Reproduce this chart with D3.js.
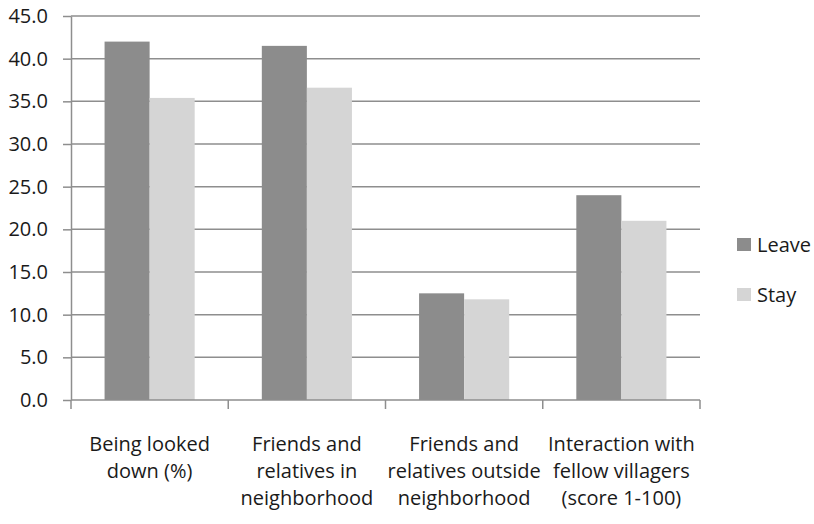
<!DOCTYPE html>
<html>
<head>
<meta charset="utf-8">
<script src="https://cdn.jsdelivr.net/npm/d3@7"></script>
<style>
  html, body { margin: 0; padding: 0; background: #fff; }
  svg text { font-family: "Open Sans", sans-serif; fill: #1a1a1a; }
</style>
</head>
<body>
<svg id="chart" width="814" height="524"></svg>
<script>
// Category labels (one entry per line)
const categories = [
  ["Being looked", "down (%)"],
  ["Friends and", "relatives in", "neighborhood"],
  ["Friends and", "relatives outside", "neighborhood"],
  ["Interaction with", "fellow villagers", "(score 1-100)"]
];
const seriesNames = ["Leave", "Stay"];
const leaveValues = [42.0, 41.5, 12.5, 24.0];
const stayValues = [35.4, 36.6, 11.8, 21.0];
const yTicks = [0, 5, 10, 15, 20, 25, 30, 35, 40, 45];

const colors = { Leave: "#8c8c8c", Stay: "#d5d5d5" };
const lineColor = "#8e8e8e";

const svg = d3.select("#chart");
const margin = { left: 71, right: 114, top: 16, bottom: 124 };
const W = 814, H = 524;
const plotW = W - margin.left - margin.right;
const plotH = H - margin.top - margin.bottom;

const g = svg.append("g").attr("transform", `translate(${margin.left},${margin.top})`);

const x0 = d3.scaleBand().domain(d3.range(categories.length)).range([0, plotW]).paddingInner(0).paddingOuter(0);
const x1 = d3.scaleBand().domain(seriesNames).range([0, x0.bandwidth()]).paddingOuter(0.745).paddingInner(0);
const y = d3.scaleLinear().domain([0, 45]).range([plotH, 0]);

// Horizontal gridlines
g.append("g").selectAll("line").data(yTicks.filter(d => d > 0)).join("line")
  .attr("x1", 0).attr("x2", plotW)
  .attr("y1", d => y(d)).attr("y2", d => y(d))
  .attr("stroke", lineColor).attr("stroke-width", 1.5);

// Bars
const rows = categories.map((c, i) => ({ i, values: [
  { key: "Leave", value: leaveValues[i] },
  { key: "Stay", value: stayValues[i] }
]}));
g.append("g").selectAll("g").data(rows).join("g")
  .attr("transform", d => `translate(${x0(d.i)},0)`)
  .selectAll("rect").data(d => d.values).join("rect")
  .attr("x", d => x1(d.key))
  .attr("width", x1.bandwidth())
  .attr("y", d => y(d.value))
  .attr("height", d => y(0) - y(d.value))
  .attr("fill", d => colors[d.key]);

// Y axis
const yAxis = d3.axisLeft(y).tickValues(yTicks).tickFormat(d3.format(".1f")).tickSize(8).tickSizeOuter(0).tickPadding(15);
const ya = g.append("g").call(yAxis);
ya.select(".domain").attr("stroke", lineColor).attr("stroke-width", 1.5);
ya.selectAll(".tick line").attr("stroke", lineColor).attr("stroke-width", 1.5);
ya.selectAll(".tick text").attr("font-size", 20).attr("fill", "#1a1a1a")
  .style("font-family", "'Open Sans', sans-serif");

// X axis: baseline plus category boundary ticks
g.append("line").attr("x1", 0).attr("x2", plotW).attr("y1", y(0)).attr("y2", y(0))
  .attr("stroke", lineColor).attr("stroke-width", 1.5);
const bounds = d3.range(categories.length + 1).map(i => i === categories.length ? plotW : x0(i));
g.append("g").selectAll("line").data(bounds).join("line")
  .attr("x1", d => d).attr("x2", d => d)
  .attr("y1", y(0)).attr("y2", y(0) + 9)
  .attr("stroke", lineColor).attr("stroke-width", 1.5);

// Category labels
const lab = g.append("g").selectAll("text").data(categories).join("text")
  .attr("text-anchor", "middle")
  .attr("font-size", 20)
  .attr("transform", (d, i) => `translate(${x0(i) + x0.bandwidth() / 2},${y(0) + 51})`);
lab.selectAll("tspan").data(d => d).join("tspan")
  .attr("x", 0).attr("dy", (d, i) => i === 0 ? 0 : 27).text(d => d);

// Legend
const legend = svg.append("g").attr("transform", "translate(737,238)");
const li = legend.selectAll("g").data(seriesNames).join("g")
  .attr("transform", (d, i) => `translate(0,${i * 50})`);
li.append("rect").attr("width", 14).attr("height", 13).attr("fill", d => colors[d]);
li.append("text").attr("x", 20).attr("y", 14).attr("font-size", 20).text(d => d);
</script>
</body>
</html>
